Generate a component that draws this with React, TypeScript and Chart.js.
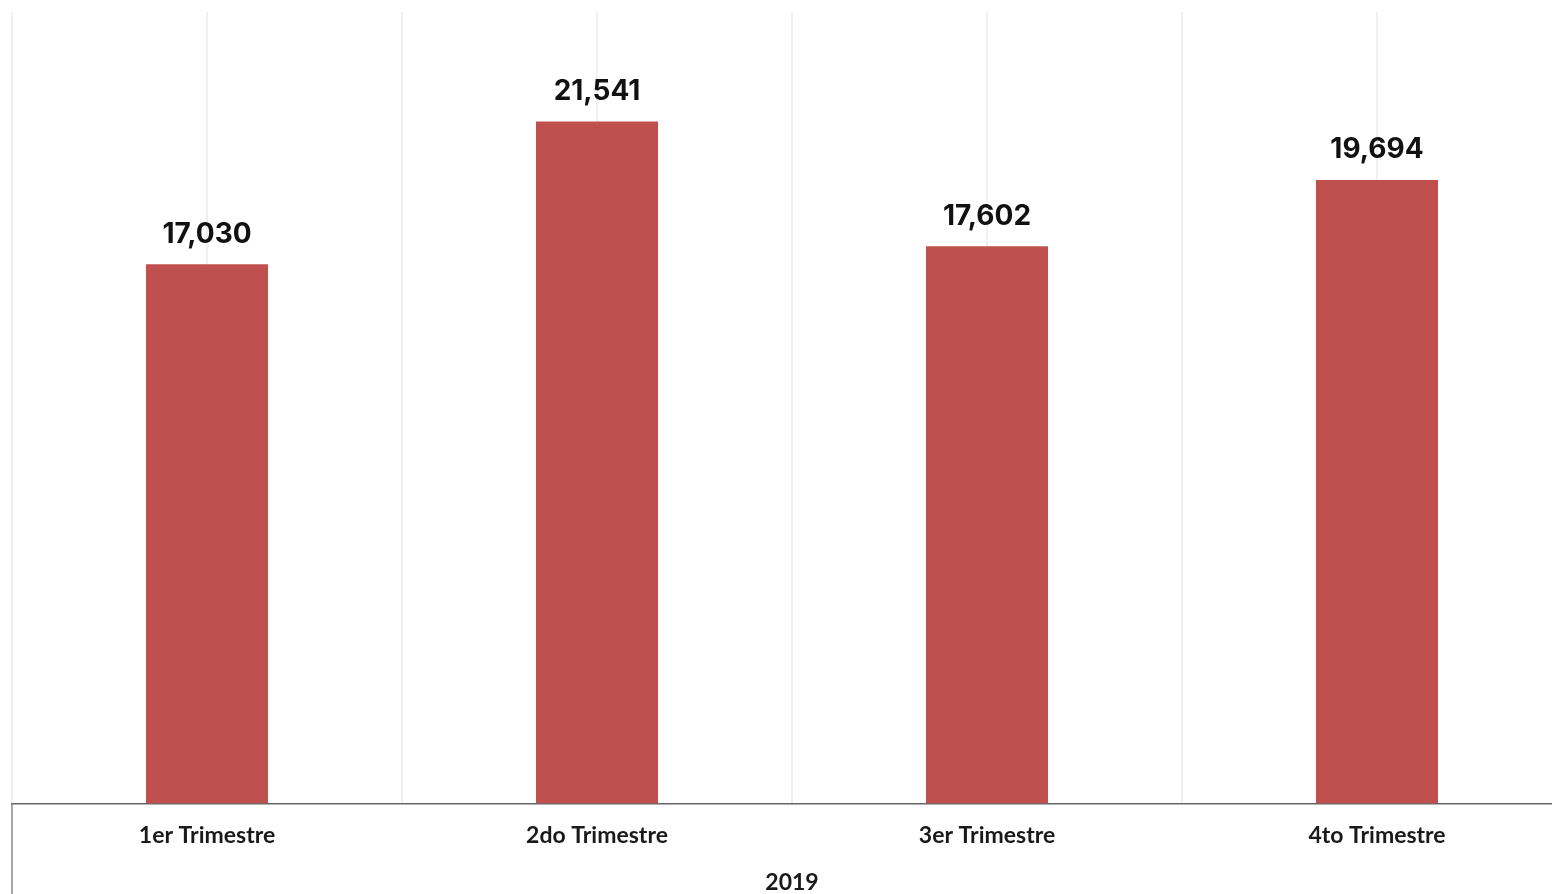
import React, { useEffect, useRef } from "react";
import { Chart, registerables } from "chart.js";

Chart.register(...registerables);

const categories = ["1er Trimestre", "2do Trimestre", "3er Trimestre", "4to Trimestre"];
const values = [17030, 21541, 17602, 19694];
const yearLabel = "2019";
const gridPositions = [-0.5, 0, 0.5, 1, 1.5, 2, 2.5, 3, 3.5];
const barColor = "#C0504D";

const dataLabelPlugin = {
  id: "dataLabels",
  afterDatasetsDraw(chart: any) {
    const ctx = chart.ctx;
    const meta = chart.getDatasetMeta(0);
    ctx.save();
    ctx.font = "bold 28px Inter, 'Open Sans', sans-serif";
    ctx.fillStyle = "#111";
    ctx.textAlign = "center";
    ctx.textBaseline = "bottom";
    meta.data.forEach((bar: any, i: number) => {
      ctx.fillText(values[i].toLocaleString("en-US"), bar.x, bar.y - 16);
    });
    ctx.restore();
  },
};

const leftBorderPlugin = {
  id: "leftBorder",
  afterDraw(chart: any) {
    const ctx = chart.ctx;
    const { left, bottom } = chart.chartArea;
    ctx.save();
    ctx.strokeStyle = "#8a8a8a";
    ctx.lineWidth = 1.5;
    ctx.beginPath();
    ctx.moveTo(left, bottom);
    ctx.lineTo(left, chart.height);
    ctx.stroke();
    ctx.restore();
  },
};

export default function App() {
  const ref = useRef<HTMLCanvasElement>(null);
  useEffect(() => {
    if (!ref.current) return;
    const chart = new Chart(ref.current, {
      type: "bar",
      data: {
        labels: categories,
        datasets: [
          {
            data: values,
            backgroundColor: barColor,
            borderWidth: 0,
            barPercentage: 1,
            categoryPercentage: 0.313,
            xAxisID: "x",
          },
        ],
      },
      options: {
        animation: false,
        responsive: false,
        maintainAspectRatio: false,
        layout: { padding: { left: 12, top: 12, right: 0, bottom: 0 } },
        plugins: { legend: { display: false }, tooltip: { enabled: false } },
        scales: {
          x: {
            type: "category",
            position: "bottom",
            grid: { display: false, drawTicks: false },
            border: { display: true, color: "#666", width: 1.5 },
            ticks: {
              padding: 18,
              color: "#1a1a1a",
              font: { family: "Lato, 'Open Sans', sans-serif", size: 23, weight: "bold" },
            },
            title: {
              display: true,
              text: yearLabel,
              color: "#1a1a1a",
              font: { family: "Lato, 'Open Sans', sans-serif", size: 23, weight: "bold", lineHeight: 1 },
              padding: { top: 4, bottom: 0 },
            },
          },
          x2: {
            type: "linear",
            position: "top",
            min: -0.5,
            max: 3.5,
            offset: false,
            afterBuildTicks: (scale: any) => {
              scale.ticks = gridPositions.map((v) => ({ value: v }));
            },
            grid: { display: true, offset: false, drawTicks: false, color: "rgba(0,0,0,0.06)", lineWidth: 2 },
            border: { display: false },
            ticks: { display: false },
          },
          y: {
            display: false,
            min: 0,
            max: 25000,
            grid: { display: false },
          },
        },
      },
      plugins: [dataLabelPlugin, leftBorderPlugin],
    } as any);
    return () => chart.destroy();
  }, []);
  return (
    <div style={{ position: "fixed", left: 0, top: 0, width: 1552, height: 894, overflow: "hidden", background: "#fff" }}>
      <canvas ref={ref} width={1572} height={894} style={{ display: "block" }} />
    </div>
  );
}
